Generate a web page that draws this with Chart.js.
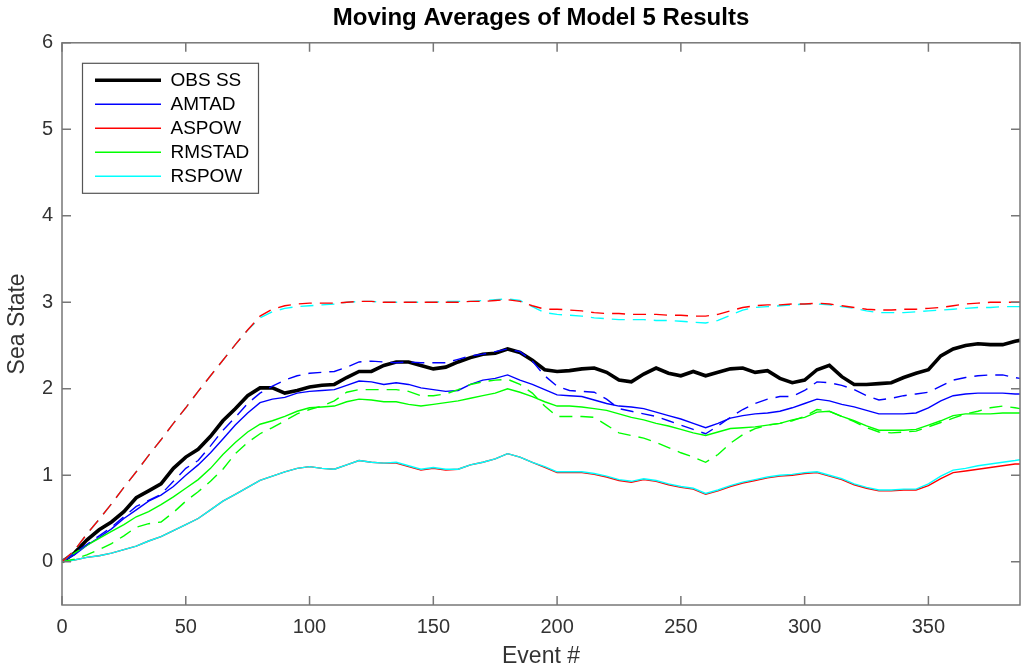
<!DOCTYPE html>
<html>
<head>
<meta charset="utf-8">
<title>Moving Averages of Model 5 Results</title>
<script src="https://cdn.jsdelivr.net/npm/chart.js@4.4.1/dist/chart.umd.min.js"></script>
<style>
  html, body { margin: 0; padding: 0; background: #fff; }
  #wrap { width: 1021px; height: 670px; }
</style>
</head>
<body>
<div id="wrap"><canvas id="grafico" width="1021" height="670"></canvas></div>
<script>
// Event # (x positions of the samples)
const eventos = [
    0, 5, 10, 15, 20, 25, 30, 35, 40, 45,
    50, 55, 60, 65, 70, 75, 80, 85, 90, 95,
    100, 105, 110, 115, 120, 125, 130, 135, 140, 145,
    150, 155, 160, 165, 170, 175, 180, 185, 190, 195,
    200, 205, 210, 215, 220, 225, 230, 235, 240, 245,
    250, 255, 260, 265, 270, 275, 280, 285, 290, 295,
    300, 305, 310, 315, 320, 325, 330, 335, 340, 345,
    350, 355, 360, 365, 370, 375, 380, 385, 387
];

const obsSS = [
    0, 0.10, 0.25, 0.37, 0.46, 0.58, 0.74, 0.82, 0.90, 1.08,
    1.21, 1.30, 1.45, 1.63, 1.77, 1.92, 2.01, 2.01, 1.95, 1.98,
    2.02, 2.04, 2.05, 2.13, 2.20, 2.20, 2.27, 2.31, 2.31, 2.27,
    2.23, 2.25, 2.31, 2.36, 2.40, 2.41, 2.46, 2.42, 2.33, 2.22,
    2.20, 2.21, 2.23, 2.24, 2.19, 2.10, 2.08, 2.17, 2.24, 2.18,
    2.15, 2.20, 2.15, 2.19, 2.23, 2.24, 2.19, 2.21, 2.12, 2.07,
    2.10, 2.22, 2.27, 2.14, 2.05, 2.05, 2.06, 2.07, 2.13, 2.18,
    2.22, 2.38, 2.46, 2.50, 2.52, 2.51, 2.51, 2.55, 2.56
];

const amtad = [
    0, 0.08, 0.19, 0.28, 0.38, 0.50, 0.60, 0.70, 0.77, 0.87,
    1.00, 1.12, 1.26, 1.42, 1.58, 1.72, 1.84, 1.88, 1.90, 1.95,
    1.97, 1.98, 1.99, 2.04, 2.09, 2.08, 2.05, 2.07, 2.05, 2.01,
    1.99, 1.97, 1.98, 2.05, 2.10, 2.12, 2.16, 2.10, 2.05, 1.99,
    1.93, 1.92, 1.91, 1.87, 1.83, 1.80, 1.79, 1.77, 1.73, 1.69,
    1.65, 1.60, 1.55, 1.60, 1.66, 1.69, 1.71, 1.72, 1.74, 1.78,
    1.83, 1.88, 1.86, 1.82, 1.79, 1.75, 1.71, 1.71, 1.71, 1.72,
    1.78, 1.86, 1.92, 1.94, 1.95, 1.95, 1.95, 1.94, 1.94
];

const amtadTracejado = [
    0, 0.10, 0.20, 0.30, 0.40, 0.52, 0.64, 0.71, 0.78, 0.93,
    1.08, 1.17, 1.34, 1.52, 1.67, 1.83, 1.95, 2.03, 2.10, 2.15,
    2.18, 2.19, 2.20, 2.25, 2.31, 2.32, 2.31, 2.30, 2.31, 2.30,
    2.30, 2.30, 2.34, 2.38, 2.40, 2.43, 2.46, 2.43, 2.32, 2.15,
    2.03, 1.98, 1.97, 1.96, 1.88, 1.77, 1.74, 1.71, 1.68, 1.63,
    1.58, 1.53, 1.48, 1.57, 1.67, 1.76, 1.83, 1.88, 1.91, 1.91,
    1.98, 2.08, 2.07, 2.04, 1.99, 1.92, 1.87, 1.89, 1.92, 1.94,
    1.96, 2.03, 2.10, 2.13, 2.15, 2.16, 2.16, 2.13, 2.12
];

const aspow = [
    0, 0.02, 0.05, 0.07, 0.10, 0.14, 0.18, 0.24, 0.29, 0.36,
    0.43, 0.50, 0.60, 0.70, 0.78, 0.86, 0.94, 0.99, 1.04, 1.08,
    1.10, 1.08, 1.07, 1.12, 1.17, 1.15, 1.14, 1.14, 1.10, 1.06,
    1.08, 1.06, 1.07, 1.12, 1.15, 1.19, 1.25, 1.21, 1.15, 1.09,
    1.03, 1.03, 1.03, 1.01, 0.98, 0.94, 0.92, 0.95, 0.93, 0.89,
    0.86, 0.84, 0.78, 0.82, 0.87, 0.91, 0.94, 0.97, 0.99, 1.00,
    1.02, 1.03, 0.99, 0.95, 0.89, 0.85, 0.82, 0.82, 0.83, 0.83,
    0.88, 0.96, 1.03, 1.05, 1.07, 1.09, 1.11, 1.13, 1.13
];

const aspowTracejado = [
    0, 0.13, 0.32, 0.49, 0.67, 0.86, 1.04, 1.23, 1.41, 1.60,
    1.78, 1.97, 2.15, 2.33, 2.51, 2.68, 2.84, 2.92, 2.96, 2.98,
    2.99, 2.99, 2.99, 3.00, 3.01, 3.01, 3.00, 3.00, 3.00, 3.00,
    3.00, 3.00, 3.00, 3.01, 3.01, 3.02, 3.03, 3.01, 2.96, 2.92,
    2.92, 2.91, 2.90, 2.88, 2.87, 2.87, 2.86, 2.86, 2.86, 2.85,
    2.85, 2.84, 2.84, 2.86, 2.90, 2.94, 2.96, 2.97, 2.97, 2.98,
    2.98, 2.99, 2.98, 2.96, 2.94, 2.92, 2.91, 2.91, 2.92, 2.92,
    2.93, 2.94, 2.96, 2.98, 2.99, 3.00, 3.00, 3.00, 3.00
];

const rmstad = [
    0, 0.10, 0.19, 0.27, 0.35, 0.43, 0.52, 0.58, 0.66, 0.75,
    0.85, 0.95, 1.08, 1.24, 1.38, 1.50, 1.59, 1.63, 1.68, 1.74,
    1.78, 1.79, 1.80, 1.85, 1.88, 1.87, 1.85, 1.85, 1.82, 1.80,
    1.82, 1.84, 1.86, 1.89, 1.92, 1.95, 2.00, 1.96, 1.91, 1.85,
    1.80, 1.80, 1.79, 1.77, 1.75, 1.71, 1.67, 1.64, 1.60, 1.57,
    1.53, 1.49, 1.46, 1.50, 1.54, 1.55, 1.56, 1.58, 1.60, 1.64,
    1.67, 1.73, 1.74, 1.68, 1.63, 1.57, 1.52, 1.52, 1.52, 1.53,
    1.58, 1.63, 1.69, 1.71, 1.71, 1.71, 1.72, 1.72, 1.72
];

const rmstadTracejado = [
    0, 0.03, 0.08, 0.14, 0.21, 0.30, 0.40, 0.44, 0.46, 0.57,
    0.70, 0.81, 0.93, 1.07, 1.25, 1.38, 1.48, 1.55, 1.63, 1.71,
    1.76, 1.80, 1.86, 1.96, 1.99, 1.99, 1.99, 1.99, 1.97, 1.92,
    1.92, 1.94, 1.99, 2.05, 2.08, 2.10, 2.11, 2.05, 1.95, 1.80,
    1.68, 1.68, 1.68, 1.67, 1.58, 1.49, 1.46, 1.43, 1.38, 1.32,
    1.26, 1.21, 1.15, 1.24, 1.37, 1.47, 1.54, 1.58, 1.60, 1.63,
    1.68, 1.76, 1.74, 1.68, 1.62, 1.55, 1.50, 1.49, 1.50, 1.51,
    1.56, 1.61, 1.66, 1.71, 1.74, 1.78, 1.80, 1.78, 1.77
];

const rspow = [
    0, 0.02, 0.05, 0.07, 0.10, 0.14, 0.18, 0.24, 0.29, 0.36,
    0.43, 0.50, 0.60, 0.70, 0.78, 0.86, 0.94, 0.99, 1.04, 1.08,
    1.10, 1.08, 1.07, 1.12, 1.17, 1.15, 1.14, 1.15, 1.11, 1.07,
    1.09, 1.07, 1.07, 1.12, 1.15, 1.19, 1.25, 1.21, 1.15, 1.10,
    1.04, 1.04, 1.04, 1.02, 0.99, 0.95, 0.93, 0.96, 0.94, 0.90,
    0.87, 0.85, 0.79, 0.83, 0.88, 0.92, 0.95, 0.98, 1.00, 1.01,
    1.03, 1.04, 1.00, 0.96, 0.90, 0.86, 0.83, 0.83, 0.84, 0.84,
    0.90, 0.99, 1.06, 1.08, 1.11, 1.13, 1.15, 1.17, 1.18
];

const rspowTracejado = [
    0, 0.13, 0.32, 0.49, 0.67, 0.86, 1.04, 1.23, 1.41, 1.60,
    1.78, 1.97, 2.15, 2.33, 2.51, 2.68, 2.82, 2.89, 2.93, 2.95,
    2.96, 2.97, 2.98, 3.00, 3.01, 3.01, 3.00, 3.00, 3.00, 3.00,
    3.00, 3.01, 3.01, 3.01, 3.02, 3.03, 3.04, 3.02, 2.95, 2.88,
    2.86, 2.85, 2.84, 2.82, 2.81, 2.80, 2.80, 2.80, 2.79, 2.79,
    2.78, 2.77, 2.76, 2.79, 2.85, 2.91, 2.94, 2.95, 2.96, 2.97,
    2.98, 2.98, 2.97, 2.95, 2.93, 2.90, 2.88, 2.88, 2.88, 2.89,
    2.90, 2.91, 2.92, 2.93, 2.94, 2.94, 2.95, 2.95, 2.95
];

const ticksY = [0, 1, 2, 3, 4, 5, 6];
const ticksX = [0, 50, 100, 150, 200, 250, 300, 350];

Chart.defaults.font.family = '"Liberation Sans", Arial, Helvetica, sans-serif';

const tracejado = [13, 8];

// serie(label, dados, cor, largura, ordem de desenho, tracejado)
const serie = (label, dados, cor, largura, ordem, dash) => ({
    label: label,
    data: dados,
    borderColor: cor,
    backgroundColor: cor,
    pointBorderColor: cor,
    pointBackgroundColor: cor,
    borderWidth: largura,
    pointBorderWidth: largura,
    borderDash: dash || [],
    pointRadius: 0,
    pointHoverRadius: 0,
    tension: 0,
    fill: false,
    order: ordem
});

// caixa dos eixos com ticks para dentro, titulo centrado no grafico, moldura da legenda
const moldura = {
    id: 'moldura',
    afterLayout(chart) {
        const leg = chart.legend, area = chart.chartArea;
        const w = leg.right - leg.left, h = leg.bottom - leg.top;
        leg.left = area.left + 28;
        leg.top = area.top + 23;
        leg.right = leg.left + w;
        leg.bottom = leg.top + h;
        chart.titleBlock.left = area.left;
        chart.titleBlock.right = area.right;
    },
    beforeDraw(chart) {
        const leg = chart.legend, ctx = chart.ctx;
        ctx.save();
        ctx.fillStyle = '#fff';
        ctx.fillRect(leg.left - 8, leg.top - 3, 177, 131);
        ctx.strokeStyle = '#555';
        ctx.lineWidth = 1.2;
        ctx.strokeRect(leg.left - 7.5, leg.top - 2.5, 176, 130);
        ctx.restore();
    },
    afterDatasetsDraw(chart) {
        const {ctx, chartArea: a, scales: {x, y}} = chart;
        ctx.save();
        ctx.strokeStyle = '#777';
        ctx.lineWidth = 1.5;
        ctx.strokeRect(a.left, a.top, a.right - a.left, a.bottom - a.top);
        ctx.beginPath();
        x.ticks.forEach(t => {
            const px = x.getPixelForValue(t.value);
            ctx.moveTo(px, a.bottom); ctx.lineTo(px, a.bottom - 9);
            ctx.moveTo(px, a.top); ctx.lineTo(px, a.top + 9);
        });
        y.ticks.forEach(t => {
            const py = y.getPixelForValue(t.value);
            ctx.moveTo(a.left, py); ctx.lineTo(a.left + 9, py);
            ctx.moveTo(a.right, py); ctx.lineTo(a.right - 9, py);
        });
        ctx.stroke();
        ctx.restore();
    }
};

const ctx = document.getElementById('grafico').getContext('2d');
new Chart(ctx, {
    type: 'line',
    data: {
        labels: eventos,
        datasets: [
            serie('OBS SS', obsSS, '#000000', 3.6, 9),
            serie('AMTAD', amtad, '#0000ff', 1.4, 8),
            serie('ASPOW', aspow, '#ff0000', 1.4, 7),
            serie('RMSTAD', rmstad, '#00ff00', 1.4, 6),
            serie('RSPOW', rspow, '#00ffff', 1.4, 5),
            serie('AMTAD (tracejado)', amtadTracejado, '#0000ff', 1.4, 4, tracejado),
            serie('ASPOW (tracejado)', aspowTracejado, '#ff0000', 1.4, 1, tracejado),
            serie('RMSTAD (tracejado)', rmstadTracejado, '#00ff00', 1.4, 3, tracejado),
            serie('RSPOW (tracejado)', rspowTracejado, '#00ffff', 1.4, 2, tracejado)
        ]
    },
    options: {
        responsive: false,
        devicePixelRatio: 1,
        animation: false,
        layout: { padding: { left: 0, right: 1, top: 0, bottom: 0 } },
        scales: {
            x: {
                type: 'linear',
                min: 0,
                max: 387,
                afterBuildTicks: (s) => { s.ticks = ticksX.map(v => ({ value: v })); },
                afterFit: (s) => { s.height = 65; },
                ticks: { color: '#333', font: { size: 20 }, padding: 10, maxRotation: 0, autoSkip: false },
                grid: { display: false, drawTicks: false },
                border: { display: false },
                title: { display: true, text: 'Event #', color: '#333', font: { size: 23 }, padding: { top: 0, bottom: 0 } }
            },
            y: {
                min: -0.5,
                max: 6,
                afterBuildTicks: (s) => { s.ticks = ticksY.map(v => ({ value: v })); },
                afterFit: (s) => { s.width = 62; },
                ticks: { color: '#333', font: { size: 20 }, padding: 9 },
                grid: { display: false, drawTicks: false },
                border: { display: false },
                title: { display: true, text: 'Sea State', color: '#333', font: { size: 23 }, padding: { top: 4, bottom: 0 } }
            }
        },
        plugins: {
            title: {
                display: true,
                text: 'Moving Averages of Model 5 Results',
                color: '#000',
                font: { size: 24, weight: 'bold' },
                padding: { top: 4, bottom: 10 }
            },
            legend: {
                position: 'chartArea',
                align: 'start',
                labels: {
                    usePointStyle: true,
                    pointStyle: 'line',
                    pointStyleWidth: 66,
                    padding: 5,
                    color: '#000',
                    font: { size: 19 },
                    filter: (item) => item.datasetIndex < 5,
                    sort: (a, b) => a.datasetIndex - b.datasetIndex
                }
            },
            tooltip: { enabled: false }
        }
    },
    plugins: [moldura]
});
</script>
</body>
</html>
